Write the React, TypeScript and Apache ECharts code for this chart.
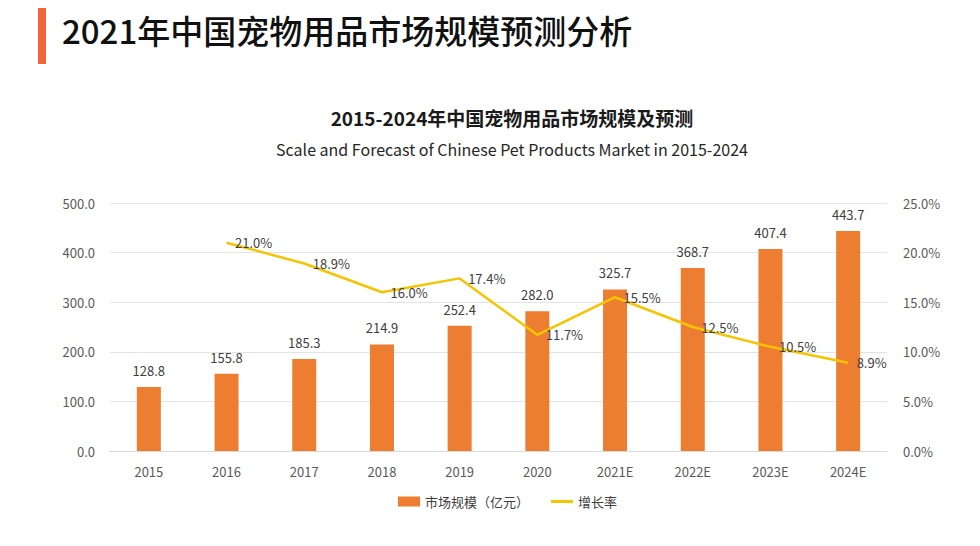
import React, { useEffect, useRef } from "react";
import * as echarts from "echarts";

const categories = ["2015", "2016", "2017", "2018", "2019", "2020", "2021E", "2022E", "2023E", "2024E"];
const marketScale = [128.8, 155.8, 185.3, 214.9, 252.4, 282.0, 325.7, 368.7, 407.4, 443.7];
const growthRate: (number | null)[] = [null, 21.0, 18.9, 16.0, 17.4, 11.7, 15.5, 12.5, 10.5, 8.9];

const FONT = "'Noto Sans CJK SC', 'Noto Sans', sans-serif";
const LINE_COLOR = "#F5C400";

export default function App() {
  const ref = useRef<HTMLDivElement>(null);
  useEffect(() => {
    document.body.style.margin = "0";
    const chart = echarts.init(ref.current!, null, { renderer: "svg" });
    chart.setOption({
      animation: false,
      backgroundColor: "#ffffff",
      textStyle: { fontFamily: FONT },
      graphic: [
        { type: "rect", shape: { x: 38, y: 8, width: 8, height: 56 }, style: { fill: "#F0653A" } },
        {
          type: "text",
          left: 62,
          top: 13,
          style: { text: "2021年中国宠物用品市场规模预测分析", font: `500 33px ${FONT}`, fill: "#111111" },
        },
      ],
      title: [
        {
          text: "2015-2024年中国宠物用品市场规模及预测",
          left: 507,
          top: 103,
          textAlign: "center",
          textStyle: { fontSize: 19, fontWeight: "bold", color: "#1a1a1a", fontFamily: FONT },
        },
        {
          text: "Scale and Forecast of Chinese Pet Products Market in 2015-2024",
          left: 507,
          top: 136,
          textAlign: "center",
          textStyle: { fontSize: 16, fontWeight: "normal", color: "#262626", fontFamily: FONT },
        },
      ],
      legend: {
        bottom: 33,
        left: 393,
        itemGap: 22,
        itemWidth: 22,
        itemHeight: 10,
        textStyle: { fontSize: 13, color: "#404040", fontFamily: FONT },
        data: [
          { name: "市场规模（亿元）", icon: "rect" },
          {
            name: "增长率",
            icon: "path://M0,0 L22,0 L22,3 L0,3 Z",
            itemStyle: { color: LINE_COLOR, opacity: 1 },
          },
        ],
      },
      grid: { left: 110, right: 93, top: 203, bottom: 95 },
      xAxis: {
        type: "category",
        data: categories,
        axisLine: { lineStyle: { color: "#d9d9d9" } },
        axisTick: { show: false },
        axisLabel: { color: "#595959", fontSize: 13, margin: 14 },
      },
      yAxis: [
        {
          type: "value",
          min: 0,
          max: 500,
          interval: 100,
          axisLabel: { color: "#595959", fontSize: 13, margin: 15, formatter: (v: number) => v.toFixed(1) },
          splitLine: { lineStyle: { color: "#e3e3e3" } },
          axisLine: { show: false },
          axisTick: { show: false },
        },
        {
          type: "value",
          min: 0,
          max: 25,
          interval: 5,
          axisLabel: { color: "#595959", fontSize: 13, margin: 16, formatter: (v: number) => v.toFixed(1) + "%" },
          splitLine: { show: false },
          axisLine: { show: false },
          axisTick: { show: false },
        },
      ],
      series: [
        {
          name: "市场规模（亿元）",
          type: "bar",
          data: marketScale,
          barWidth: 24,
          itemStyle: { color: "#ED7D31" },
          label: {
            show: true,
            position: "top",
            distance: 10,
            color: "#404040",
            fontSize: 13,
            formatter: (p: any) => p.value.toFixed(1),
          },
        },
        {
          name: "增长率",
          type: "line",
          yAxisIndex: 1,
          data: growthRate,
          showSymbol: true,
          symbol: "circle",
          symbolSize: 1,
          lineStyle: { color: LINE_COLOR, width: 2.5 },
          itemStyle: { color: LINE_COLOR, opacity: 0 },
          label: {
            show: true,
            position: "right",
            distance: 8,
            color: "#404040",
            fontSize: 13,
            opacity: 1,
            formatter: (p: any) => p.value.toFixed(1) + "%",
          },
        },
      ],
    });
    return () => chart.dispose();
  }, []);
  return <div ref={ref} style={{ width: 980, height: 546 }} />;
}
